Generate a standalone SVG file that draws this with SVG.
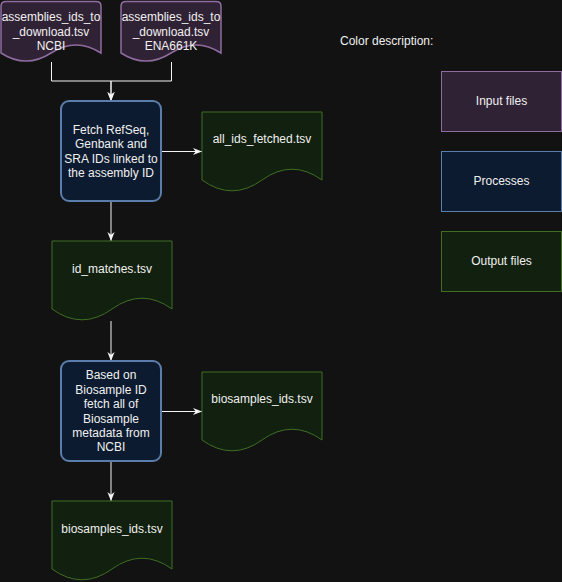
<svg xmlns="http://www.w3.org/2000/svg" width="562" height="582" viewBox="0 0 562 582">
<style>
text{font-family:"Liberation Sans",Arial,sans-serif;font-size:12px;fill:#f0f0f0;text-anchor:middle}
.in{fill:#302235;stroke:#8f6ca0;stroke-width:1.5}
.pr{fill:#0c1b2f;stroke:#5a7dab;stroke-width:2}
.out{fill:#12200f;stroke:#3f6e24;stroke-width:1}
.lin{fill:#302235;stroke:#8f6ca0;stroke-width:1}
.lpr{fill:#0c1b2f;stroke:#5a7dab;stroke-width:1}
.edge{fill:none;stroke:#f4f4f4;stroke-width:1}
</style>
<defs>
<marker id="arr" viewBox="0 0 10 10" refX="10" refY="5" markerWidth="9" markerHeight="9" markerUnits="userSpaceOnUse" orient="auto">
<path d="M0,1 L10,5 L0,9 L3,5 Z" fill="#f4f4f4"/>
</marker>
</defs>
<rect width="562" height="582" fill="#121212"/>
<g id="connectors">
<path class="edge" d="M51.5,62 V81 H111 V101" marker-end="url(#arr)"/>
<path class="edge" d="M171.5,62 V81 H111 V101" marker-end="url(#arr)"/>
<path class="edge" d="M161,151.5 H202" marker-end="url(#arr)"/>
<path class="edge" d="M111,201 V241" marker-end="url(#arr)"/>
<path class="edge" d="M111,321 V361" marker-end="url(#arr)"/>
<path class="edge" d="M161,411.5 H202" marker-end="url(#arr)"/>
<path class="edge" d="M111,461 V501" marker-end="url(#arr)"/>
</g>
<g id="input-ncbi">
<path class="in" d="M1,6 Q1,1.5 6,1.5 L96,1.5 Q101,1.5 101,6 L101,53 Q76,36.8 51,53 Q26,69.2 1,53 Z"/>
<text x="51" y="21">assemblies_ids_to</text>
<text x="51" y="35.5">_download.tsv</text>
<text x="51" y="50">NCBI</text>
</g>
<g id="input-ena">
<path class="in" d="M121,6 Q121,1.5 126,1.5 L216,1.5 Q221,1.5 221,6 L221,53 Q196,36.8 171,53 Q146,69.2 121,53 Z"/>
<text x="171" y="21">assemblies_ids_to</text>
<text x="171" y="35.5">_download.tsv</text>
<text x="171" y="50">ENA661K</text>
</g>
<g id="process-fetch">
<rect class="pr" x="61" y="101" width="100" height="100" rx="8"/>
<text x="111" y="133.5">Fetch RefSeq,</text>
<text x="111" y="148">Genbank and</text>
<text x="111" y="162.5">SRA IDs linked to</text>
<text x="111" y="177">the assembly ID</text>
</g>
<g id="out-all-ids">
<path class="out" d="M202,112 H322 V180 Q292,158.4 262,180 Q232,201.6 202,180 Z"/>
<text x="262" y="142.5">all_ids_fetched.tsv</text>
</g>
<g id="out-id-matches">
<path class="out" d="M52,241 H172 V309 Q142,287.4 112,309 Q82,330.6 52,309 Z"/>
<text x="112" y="272.5">id_matches.tsv</text>
</g>
<g id="process-biosample">
<rect class="pr" x="61" y="361" width="100" height="100" rx="8"/>
<text x="111" y="379.3">Based on</text>
<text x="111" y="393.7">Biosample ID</text>
<text x="111" y="408.1">fetch all of</text>
<text x="111" y="422.5">Biosample</text>
<text x="111" y="436.9">metadata from</text>
<text x="111" y="451.3">NCBI</text>
</g>
<g id="out-biosamples-right">
<path class="out" d="M202,372 H322 V440 Q292,418.4 262,440 Q232,461.6 202,440 Z"/>
<text x="262" y="402.5">biosamples_ids.tsv</text>
</g>
<g id="out-biosamples-bottom">
<path class="out" d="M52,501 H172 V569 Q142,547.4 112,569 Q82,590.6 52,569 Z"/>
<text x="112" y="532.5">biosamples_ids.tsv</text>
</g>
<g id="legend">
<text x="340" y="45" style="text-anchor:start">Color description:</text>
<g id="legend-input">
<rect class="lin" x="441.5" y="71.5" width="120" height="60"/>
<text x="501.5" y="105">Input files</text>
</g>
<g id="legend-process">
<rect class="lpr" x="441.5" y="151.5" width="120" height="60"/>
<text x="501.5" y="185">Processes</text>
</g>
<g id="legend-output">
<rect class="out" x="441.5" y="231.5" width="120" height="60"/>
<text x="501.5" y="265">Output files</text>
</g>
</g>
</svg>
